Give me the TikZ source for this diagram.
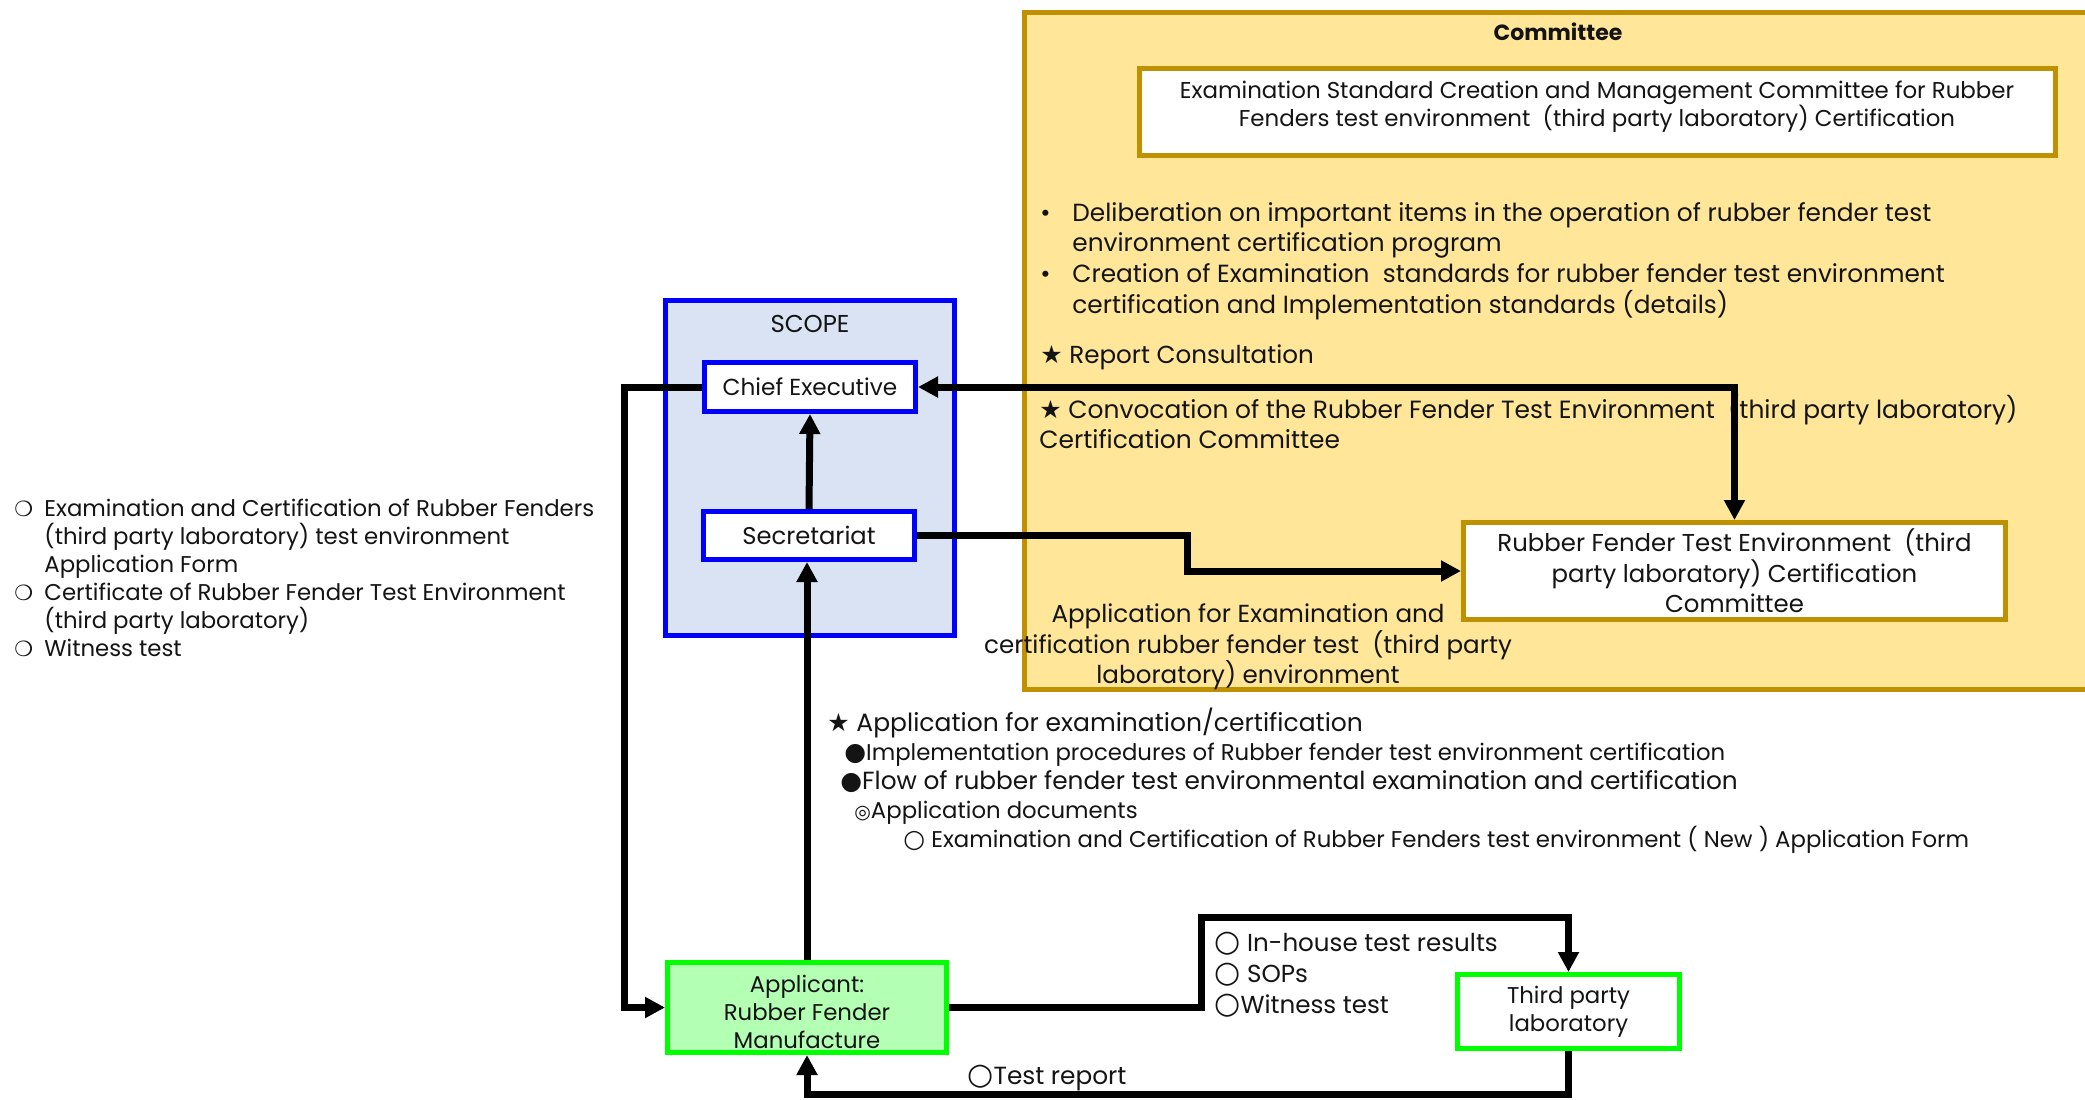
\documentclass[tikz,border=0pt]{standalone}
\usepackage{fontspec}
\setmainfont{Poppins}
\newfontfamily\symf{DejaVu Sans}
\usetikzlibrary{arrows.meta,calc}
\definecolor{gold}{HTML}{BF9000}
\definecolor{cream}{HTML}{FFE699}
\definecolor{scopefill}{HTML}{DAE3F3}
\definecolor{appfill}{HTML}{B3FFB3}
\definecolor{greenb}{HTML}{00FF00}
\definecolor{bluebox}{HTML}{0000FF}
\definecolor{ink}{HTML}{141414}
\newcommand\LB{\makebox[15pt][l]{\symf\bfseries\fontsize{10.5pt}{9pt}\selectfont ❍}}
\newcommand\IN{\hspace*{15pt}}
\newcommand\DT{\makebox[16pt][l]{•}}
\newcommand\ST{{\symf\fontsize{12.5pt}{9pt}\selectfont ★}}
\newcommand\BL{{\symf\fontsize{12.5pt}{9pt}\selectfont ●}}
\newcommand\DC{{\symf\fontsize{9.5pt}{8pt}\selectfont ◎}}
\newcommand\WC{{\symf\fontsize{12.5pt}{9pt}\selectfont ○}}
\newcommand\BWC{{\symf\fontsize{15pt}{9pt}\selectfont ○}}
\begin{document}
\begin{tikzpicture}[x=0.5pt,y=-0.5pt,
  every node/.style={text=ink, inner sep=0pt},
  conn/.style={line width=3.5pt, black},
  arr/.style={-{Triangle[length=10pt,width=10pt]}},
  darr/.style={{Triangle[length=10pt,width=10pt]}-{Triangle[length=10pt,width=10pt]}},
  bluebx/.style={draw=bluebox, line width=2.5pt, fill=white, align=center, font=\fontsize{11.6pt}{14pt}\selectfont},
  goldbx/.style={draw=gold, line width=2.5pt, fill=white, align=center, font=\fontsize{12.2pt}{15.3pt}\selectfont},
  greenbx/.style={draw=greenb, line width=2.5pt, align=center, font=\fontsize{11.4pt}{14pt}\selectfont},
  txt/.style={anchor=base west, align=left}
]
\useasboundingbox (0,0) rectangle (2085,1099);
\fill[white] (0,0) rectangle (2085,1099);

% Committee region
\draw[draw=gold, fill=cream, line width=2.5pt] (1024,12) rectangle (2100,689);
\node[font=\bfseries\fontsize{11pt}{13pt}\selectfont] (comtitle) at (1558,32) {Committee};
\node[goldbx, minimum width=458pt, minimum height=43.5pt] (exam) at (1597.5,112) {};
\node[align=center, font=\fontsize{11.45pt}{14pt}\selectfont] (examtxt) at (1597,107)
  {Examination Standard Creation and Management Committee for Rubber\\Fenders test environment\ \ (third party laboratory) Certification};
\node[txt, font=\fontsize{12.4pt}{15.3pt}\selectfont] (duties) at (1040,313)
  {\DT Deliberation on important items in the operation of rubber fender test\\
   \hspace*{16pt}environment certification program\\
   \DT Creation of Examination\ \ standards for rubber fender test environment\\
   \hspace*{16pt}certification and Implementation standards (details)};
\node[txt, font=\fontsize{12.3pt}{15pt}\selectfont] (report) at (1040,363) {\ST\ Report Consultation};
\node[txt, font=\fontsize{12.45pt}{15pt}\selectfont] (convoc) at (1039,448)
  {\ST\ Convocation of the Rubber Fender Test Environment\ \ (third party laboratory)\\Certification Committee};
\node[goldbx, minimum width=271pt, minimum height=48.5pt] (rfte) at (1734.5,571)
  {Rubber Fender Test Environment\ \ (third\\party laboratory) Certification\\Committee};
\node[align=center, font=\fontsize{12.3pt}{15.3pt}\selectfont] (applabel) at (1248,647)
  {Application for Examination and\\certification rubber fender test\ \ (third party\\laboratory) environment};

% SCOPE
\node[draw=bluebox, fill=scopefill, line width=2.5pt, minimum width=144.5pt, minimum height=167.5pt] (scope) at (810,468) {};
\node[font=\fontsize{12.2pt}{12pt}\selectfont] (scopetxt) at (810,324) {SCOPE};
\node[bluebx, minimum width=105.5pt, minimum height=24.5pt] (chief) at (810,387) {Chief Executive};
\node[bluebx, font=\fontsize{12.1pt}{14pt}\selectfont, minimum width=105.5pt, minimum height=24pt] (sec) at (809,535.5) {Secretariat};

% left list
\node[txt, font=\fontsize{11.4pt}{14pt}\selectfont] (leftlist) at (14,656)
  {\LB Examination and Certification of Rubber Fenders\\
   \IN(third party laboratory) test environment\\
   \IN Application Form\\
   \LB Certificate of Rubber Fender Test Environment\\
   \IN(third party laboratory)\\
   \LB Witness test};

% application documents
\node[txt, font=\fontsize{11.4pt}{14.5pt}\selectfont] (appdocs) at (827,847)
  {{\fontsize{12.5pt}{14.5pt}\selectfont\ST\ Application for examination/certification}\\
   \hspace*{8.5pt}\BL Implementation procedures of Rubber fender test environment certification\\
   \hspace*{6.5pt}{\fontsize{12.4pt}{14.5pt}\selectfont\BL Flow of rubber fender test environmental examination and certification}\\
   \hspace*{13.5pt}\DC Application documents\\
   \hspace*{38pt}\WC\ Examination and Certification of Rubber Fenders test environment ( New ) Application Form};

% bottom
\node[greenbx, fill=appfill, minimum width=139.5pt, minimum height=45pt] (app) at (807,1007.5)
  {\rule{0pt}{13pt}Applicant:\\Rubber Fender\\Manufacture};
\node[greenbx, fill=white, minimum width=111pt, minimum height=37pt] (lab) at (1568.5,1011.5)
  {Third party\\laboratory};
\node[txt, font=\fontsize{12.3pt}{15.3pt}\selectfont] (items) at (1214,1013)
  {\BWC\ In-house test results\\\BWC\ SOPs\\\BWC Witness test};
\node[txt, font=\fontsize{12.4pt}{14pt}\selectfont] (testrep) at (967,1084) {\BWC Test report};

% connector helper coordinates
\coordinate (kl) at (624,0);
\coordinate (ks) at (1187,0);
\coordinate (ka) at (1201,917);
\coordinate (kb) at (0,1094);

% connectors
\draw[conn,arr] (chief.west) -- (chief.west -| kl) |- (app.west);
\draw[conn,arr] (sec.north) -- (chief.south);
\draw[conn,arr] (app.north) -- (app.north |- sec.south);
\draw[conn,arr] (sec.east) -- (sec.east -| ks) |- (rfte.west);
\draw[conn,darr] (chief.east) -| (rfte.north);
\draw[conn,arr] (app.east) -- (app.east -| ka) -- (ka) -| (lab.north);
\draw[conn,arr] (lab.south) -- (lab.south |- kb) -| (app.south);
\end{tikzpicture}
\end{document}
